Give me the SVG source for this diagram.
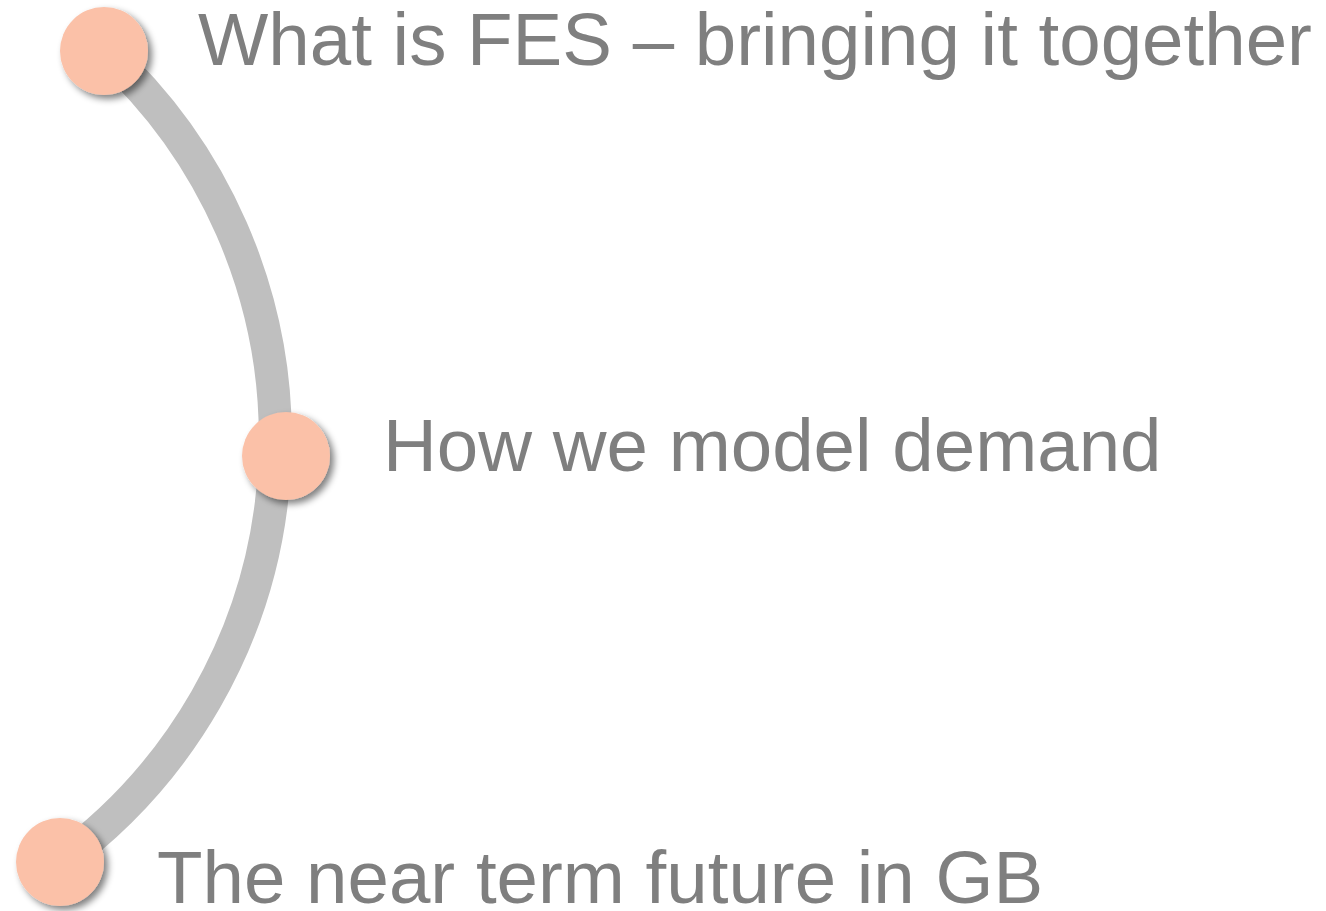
<svg xmlns="http://www.w3.org/2000/svg" width="1326" height="911" viewBox="0 0 1326 911">
<defs>
<filter id="sh" x="-30%" y="-30%" width="170%" height="170%">
<feGaussianBlur in="SourceAlpha" stdDeviation="3.5"/>
<feOffset dx="4" dy="4" result="b"/>
<feComponentTransfer><feFuncA type="linear" slope="0.5"/></feComponentTransfer>
<feMerge><feMergeNode/><feMergeNode in="SourceGraphic"/></feMerge>
</filter>
<style>
.node{fill:#fbc1a8;filter:url(#sh)}
.lbl{font-family:"Liberation Sans",Arial,sans-serif;font-size:74.5px;fill:#7f7f7f}
.arc{fill:none;stroke:#bfbfbf;stroke-width:33}
</style>
</defs>
<rect width="1326" height="911" fill="#ffffff"/>
<g id="connectors">
<path class="arc" d="M104,51 A524,524 0 0 1 60,862"/>
</g>
<g id="node1">
<circle class="node" cx="104" cy="51" r="44"/>
<text class="lbl" x="198" y="65">What is FES – bringing it together</text>
</g>
<g id="node2">
<circle class="node" cx="286" cy="456" r="44"/>
<text class="lbl" x="383" y="471">How we model demand</text>
</g>
<g id="node3">
<circle class="node" cx="60" cy="862" r="44"/>
<text class="lbl" x="157" y="903">The near term future in GB</text>
</g>
</svg>
